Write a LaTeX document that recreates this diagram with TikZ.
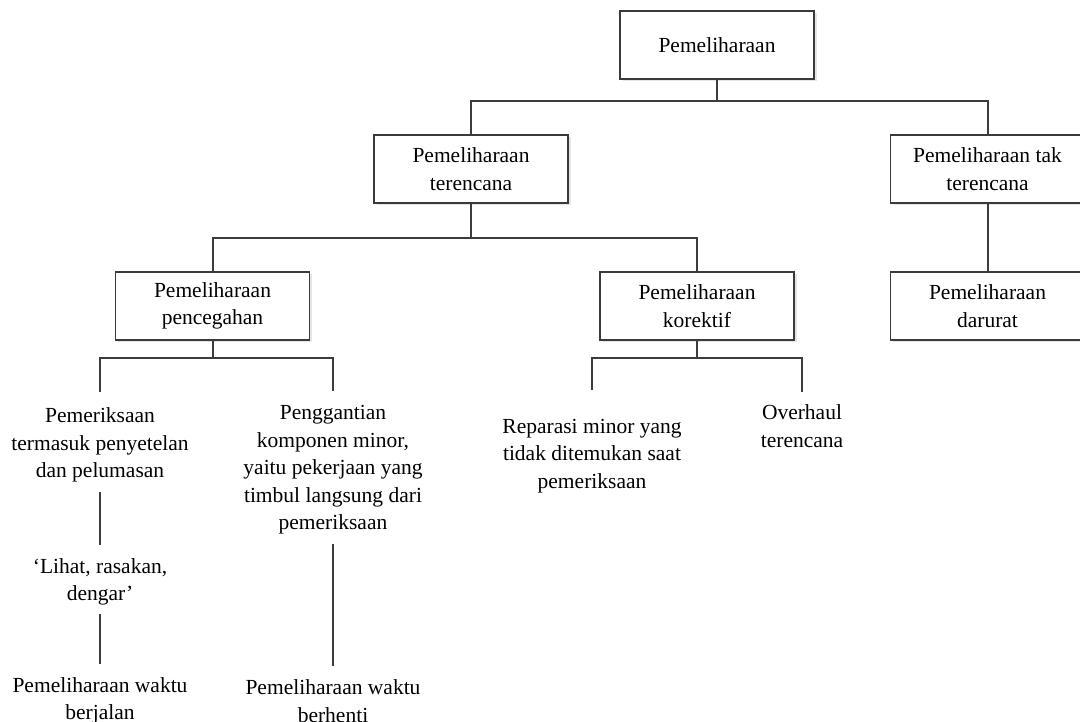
\documentclass[tikz,border=0pt]{standalone}
\usepackage{fontspec}
\setmainfont{Liberation Serif}
\usetikzlibrary{calc,shadows}
\definecolor{boxcol}{HTML}{3A3A3A}
\definecolor{linecol}{HTML}{3C3C3C}
\begin{document}
\begin{tikzpicture}[x=1pt,y=-1pt,
  every node/.style={font=\fontsize{21.5}{27.5}\selectfont, text=black},
  box/.style={draw=boxcol, line width=1.3pt, fill=white, minimum width=194pt,
    minimum height=68pt, align=center, inner sep=0pt,
    general shadow={fill=black!10, shadow xshift=2.5pt, shadow yshift=-2.5pt}},
  lbl/.style={align=center, inner sep=0pt},
  conn/.style={draw=linecol, line width=2pt}]
\useasboundingbox (0,0) rectangle (1080,722);
\clip (0,0) rectangle (1080,722);

% boxes
\node[box] (root) at (717,45) {Pemeliharaan};
\node[box] (ter) at (471,169) {Pemeliharaan\\terencana};
\node[box] (tak) at (987.5,169) {Pemeliharaan tak\\terencana};
\node[box] (pen) at (212.5,306) {Pemeliharaan\\pencegahan};
\node[box] (kor) at (697,306) {Pemeliharaan\\korektif};
\node[box] (dar) at (987.5,306) {Pemeliharaan\\darurat};

% text nodes
\node[lbl] (pem) at (100,445) {Pemeriksaan\\termasuk penyetelan\\dan pelumasan};
\node[lbl] (lih) at (100,582) {`Lihat, rasakan,\\dengar'};
\node[lbl] (jal) at (100,701) {Pemeliharaan waktu\\berjalan};
\node[lbl] (gan) at (333,470) {Penggantian\\komponen minor,\\yaitu pekerjaan yang\\timbul langsung dari\\pemeriksaan};
\node[lbl] (hen) at (333,701) {Pemeliharaan waktu\\berhenti};
\node[lbl] (rep) at (592,456) {Reparasi minor yang\\tidak ditemukan saat\\pemeriksaan};
\node[lbl] (ovh) at (802,426) {Overhaul\\terencana};

% connectors
\draw[conn] (root.south) -- ++(0,21) coordinate (j1);
\draw[conn] (ter.north) |- (j1) -| (tak.north);
\draw[conn] (ter.south) -- ++(0,34) coordinate (j2);
\draw[conn] (pen.north) |- (j2) -| (kor.north);
\draw[conn] (tak.south) -- (dar.north);
\draw[conn] (pen.south) -- ++(0,17) coordinate (j3);
\draw[conn,shorten <=16pt] (pem.north) |- (j3);
\draw[conn,shorten <=14pt] (gan.north) |- (j3);
\draw[conn] (kor.south) -- ++(0,17) coordinate (j4);
\draw[conn,shorten <=29pt] (rep.north) |- (j4);
\draw[conn,shorten <=12pt] (ovh.north) |- (j4);
\draw[conn,shorten <=10pt,shorten >=13pt] (pem.south) -- (lih.north);
\draw[conn,shorten <=8pt,shorten >=13pt] (lih.south) -- (jal.north);
\draw[conn,shorten <=9pt,shorten >=13pt] (gan.south) -- (hen.north);
\end{tikzpicture}
\end{document}
